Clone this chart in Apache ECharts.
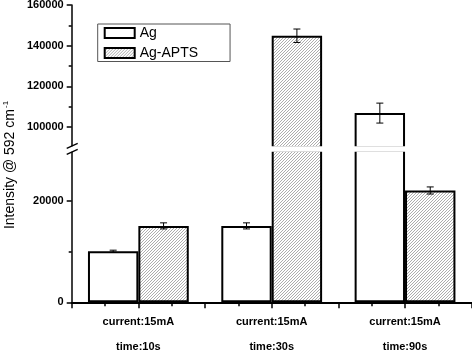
<!DOCTYPE html>
<html><head><meta charset="utf-8">
<script src="https://cdn.jsdelivr.net/npm/echarts@6/dist/echarts.min.js"></script>
<style>html,body{margin:0;padding:0;background:#fff}#c{width:472px;height:351px}</style>
</head><body><div id="c"></div>
<script>
const categories = ['current:15mA\ntime:10s', 'current:15mA\ntime:30s', 'current:15mA\ntime:90s'];
const agValues = [10100, 15100, 106900];
const agErrors = [200, 600, 4900];
const aptsValues = [15100, 144900, 22100];
const aptsErrors = [600, 3300, 700];
const lowerMajorTicks = [0, 20000];
const lowerMinorTicks = [10000];
const upperMajorTicks = [100000, 120000, 140000, 160000];
const upperMinorTicks = [110000, 130000, 150000];

function hatch() {
  const p = 3;
  const c = document.createElement('canvas');
  c.width = p; c.height = p;
  const g = c.getContext('2d');
  g.fillStyle = '#ffffff'; g.fillRect(0, 0, p, p);
  g.strokeStyle = '#8a8a8a'; g.lineWidth = 0.7;
  g.beginPath();
  g.moveTo(-1, p + 1); g.lineTo(p + 1, -1);
  g.moveTo(-1, 1); g.lineTo(1, -1);
  g.moveTo(p - 1, p + 1); g.lineTo(p + 1, p - 1);
  g.stroke();
  return c;
}
const hatchPattern = { image: hatch(), repeat: 'repeat' };

const chart = echarts.init(document.getElementById('c'), null, { renderer: 'canvas' });
const BW = 0.378;
function errSeries(name, vals, errs, side, xi, yi, inUpper) {
  const data = vals.map((v, i) => [i, v, errs[i]]).filter(d => (d[1] > 60000) === inUpper);
  return {
    type: 'custom', name: name + '_err', xAxisIndex: xi, yAxisIndex: yi, z: 5,
    silent: true, legendHoverLink: false,
    renderItem: function (params, api) {
      const x = api.value(0), v = api.value(1), e = api.value(2);
      const band = api.size([1, 0])[0];
      const off = side * band * BW / 2;
      const top = api.coord([x, v + e]);
      const bot = api.coord([x, v - e]);
      const cx = top[0] + off;
      const cw = 3.5;
      const st = { stroke: '#000', lineWidth: 1 };
      return { type: 'group', children: [
        { type: 'line', shape: { x1: cx, y1: top[1], x2: cx, y2: bot[1] }, style: st },
        { type: 'line', shape: { x1: cx - cw, y1: top[1], x2: cx + cw, y2: top[1] }, style: st },
        { type: 'line', shape: { x1: cx - cw, y1: bot[1], x2: cx + cw, y2: bot[1] }, style: st }
      ] };
    },
    data: data
  };
}
const lblFont = { fontFamily: 'Arial, Liberation Sans, sans-serif', fontWeight: 'bold', fontSize: 11, color: '#000' };
const agStyle = { color: '#ffffff', borderColor: '#000', borderWidth: 2 };
const aptsStyle = { color: hatchPattern, borderColor: '#000', borderWidth: 2 };
const plain = v => String(v);

chart.setOption({
  animation: false,
  backgroundColor: '#fff',
  grid: [
    { left: 71.7, right: 0.3, top: 150.5, bottom: 48.7, outerBoundsMode: 'none', containLabel: false },
    { left: 71.7, right: 0.3, top: 5, bottom: 203.5, outerBoundsMode: 'none', containLabel: false }
  ],
  legend: {
    orient: 'vertical', left: 97.7, top: 24, icon: 'rect',
    padding: [2, 32, 1.5, 6], itemGap: 6,
    itemWidth: 30, itemHeight: 10,
    borderColor: '#555', borderWidth: 1,
    textStyle: { fontFamily: 'Arial, Liberation Sans, sans-serif', fontSize: 14, color: '#000' },
    data: ['Ag', 'Ag-APTS']
  },
  xAxis: [
    { type: 'category', gridIndex: 0, data: categories,
      axisLine: { lineStyle: { color: '#000', width: 2 } }, axisTick: { show: false },
      axisLabel: Object.assign({ margin: 7, lineHeight: 25 }, lblFont) },
    { type: 'value', gridIndex: 0, min: 0, max: 12, interval: 2, position: 'bottom',
      axisLine: { show: false }, axisLabel: { show: false }, splitLine: { show: false },
      axisTick: { show: true, length: 6, lineStyle: { color: '#000', width: 1.5 } },
      minorTick: { show: true, splitNumber: 2, length: 4, lineStyle: { color: '#000', width: 1.5 } },
      minorSplitLine: { show: false } },
    { type: 'category', gridIndex: 1, data: categories, show: false }
  ],
  yAxis: [
    { type: 'value', gridIndex: 0, min: 0, max: 30000, interval: 10000, position: 'left',
      axisLine: { show: true, lineStyle: { color: '#000', width: 1.5 } },
      axisTick: { show: true, length: 5, customValues: lowerMajorTicks, lineStyle: { color: '#000', width: 1.5 } },
      axisLabel: Object.assign({ customValues: lowerMajorTicks, margin: 8, formatter: plain }, lblFont),
      splitLine: { show: false } },
    { type: 'value', gridIndex: 0, min: 0, max: 30000, interval: 10000, position: 'left', offset: 0,
      axisLine: { show: false }, axisLabel: { show: false }, splitLine: { show: false },
      axisTick: { show: true, length: 3, customValues: lowerMinorTicks, lineStyle: { color: '#000', width: 1.5 } } },
    { type: 'value', gridIndex: 1, min: 90000, max: 160000, interval: 10000, position: 'left',
      axisLine: { show: true, lineStyle: { color: '#000', width: 1.5 } },
      axisTick: { show: true, length: 5, customValues: upperMajorTicks, lineStyle: { color: '#000', width: 1.5 } },
      axisLabel: Object.assign({ customValues: upperMajorTicks, margin: 8, formatter: plain }, lblFont),
      splitLine: { show: false } },
    { type: 'value', gridIndex: 1, min: 90000, max: 160000, interval: 10000, position: 'left', offset: 0,
      axisLine: { show: false }, axisLabel: { show: false }, splitLine: { show: false },
      axisTick: { show: true, length: 3, customValues: upperMinorTicks, lineStyle: { color: '#000', width: 1.5 } } }
  ],
  series: [
    { type: 'bar', name: 'Ag', xAxisIndex: 0, yAxisIndex: 0, data: agValues, barWidth: (BW * 100) + '%', barGap: '0%', itemStyle: agStyle, clip: true },
    { type: 'bar', name: 'Ag-APTS', xAxisIndex: 0, yAxisIndex: 0, data: aptsValues, barWidth: (BW * 100) + '%', barGap: '0%', itemStyle: aptsStyle, clip: true },
    { type: 'bar', name: 'Ag', xAxisIndex: 2, yAxisIndex: 2, data: agValues, barWidth: (BW * 100) + '%', barGap: '0%', itemStyle: agStyle, clip: true },
    { type: 'bar', name: 'Ag-APTS', xAxisIndex: 2, yAxisIndex: 2, data: aptsValues, barWidth: (BW * 100) + '%', barGap: '0%', itemStyle: aptsStyle, clip: true },
    errSeries('Ag', agValues, agErrors, -1, 0, 0, false),
    errSeries('Ag-APTS', aptsValues, aptsErrors, 1, 0, 0, false),
    errSeries('Ag', agValues, agErrors, -1, 2, 2, true),
    errSeries('Ag-APTS', aptsValues, aptsErrors, 1, 2, 2, true)
  ],
  graphic: [
    { type: 'rect', z: 100, shape: { x: 60, y: 146.3, width: 412, height: 5.4 }, style: { fill: '#fff' } },
    { type: 'line', z: 101, shape: { x1: 66.7, y1: 148.3, x2: 77.7, y2: 143.3 }, style: { stroke: '#000', lineWidth: 1.3 } },
    { type: 'line', z: 101, shape: { x1: 66.7, y1: 154.3, x2: 77.7, y2: 149.3 }, style: { stroke: '#000', lineWidth: 1.3 } },
    { type: 'text', z: 101, x: 10, y: 165, rotation: Math.PI / 2,
      style: { text: '{a|Intensity @ 592 cm}{b|-1}', align: 'center', verticalAlign: 'middle',
        rich: { a: { fontFamily: 'Arial, Liberation Sans, sans-serif', fontSize: 14, fill: '#000', lineHeight: 16 },
                b: { fontFamily: 'Arial, Liberation Sans, sans-serif', fontSize: 8, fill: '#000', verticalAlign: 'top', lineHeight: 16, padding: [0, 0, 6, 1] } } } }
  ]
});
</script></body></html>
